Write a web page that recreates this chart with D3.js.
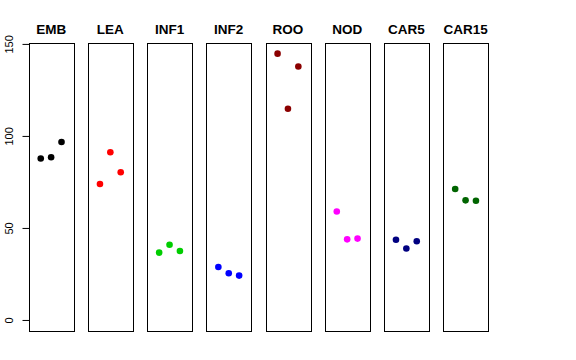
<!DOCTYPE html>
<html><head><meta charset="utf-8">
<script src="https://cdn.jsdelivr.net/npm/d3@7"></script>
<style>body{margin:0;background:#fff}svg{display:block}</style>
</head><body>
<script>
const categories = ["EMB","LEA","INF1","INF2","ROO","NOD","CAR5","CAR15"];
const colors = ["#000000","#FF0000","#00CD00","#0000FF","#8B0000","#FF00FF","#000080","#006400"];
const rep1 = [87.7, 73.9, 36.6, 28.8, 144.7, 58.9, 43.6, 71.2];
const rep2 = [88.4, 91.1, 40.9, 25.4, 114.8, 43.8, 38.8, 65.0];
const rep3 = [96.7, 80.3, 37.5, 24.1, 137.7, 44.2, 42.8, 64.8];
const yTicks = [0, 50, 100, 150];

const W = 576, H = 360;
const svg = d3.select("body").append("svg").attr("width", W).attr("height", H);
const plotTop = 43, plotBottom = 331;
const y = d3.scaleLinear().domain([-6, 150.5]).range([plotBottom, plotTop]);
const band = d3.scaleBand().domain(categories).range([28.7, 488]).paddingInner(0.2424).paddingOuter(0);

categories.forEach((c, i) => {
  const x0 = band(c), bw = band.bandwidth();
  const x = d3.scaleLinear().domain([-0.16, 4.16]).range([x0, x0 + bw]);
  const g = svg.append("g");
  g.append("rect").attr("x", Math.round(x0) + 0.5).attr("y", plotTop + 0.5)
    .attr("width", Math.round(bw)).attr("height", plotBottom - plotTop)
    .attr("fill", "none").attr("stroke", "#000").attr("stroke-width", 1);
  g.append("text").attr("x", x0 + bw / 2).attr("y", 34).attr("text-anchor", "middle")
    .attr("font-family", "Liberation Sans, Arial, sans-serif").attr("font-weight", "bold")
    .attr("font-size", 13.5).text(c);
  const vals = [rep1[i], rep2[i], rep3[i]];
  g.selectAll("circle").data(vals).join("circle")
    .attr("cx", (d, j) => x(j + 1)).attr("cy", d => y(d)).attr("r", 3.3)
    .attr("fill", colors[i]);
});

const axisX = Math.round(band(categories[0])) + 0.5;
const ax = svg.append("g").attr("transform", `translate(${axisX},0)`)
  .call(d3.axisLeft(y).tickValues(yTicks).tickSize(7).tickPadding(4));
ax.select(".domain").remove();
ax.selectAll("line").attr("stroke", "#000");
ax.selectAll("text")
  .attr("font-family", "Liberation Sans, Arial, sans-serif").attr("font-size", 11)
  .attr("fill", "#000")
  .attr("x", null).attr("y", null).attr("dy", null)
  .attr("transform", "translate(-16.5,0) rotate(-90)")
  .attr("text-anchor", "middle");
</script>
</body></html>
